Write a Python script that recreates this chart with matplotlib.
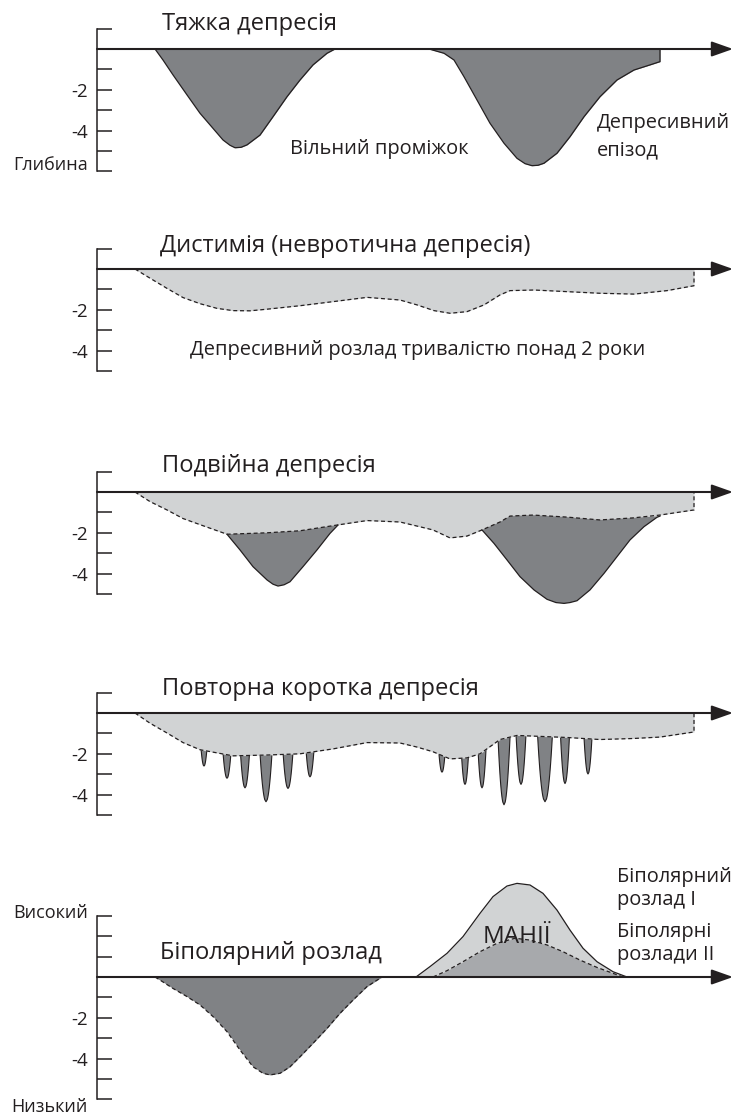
import numpy as np
import matplotlib
matplotlib.use('Agg')
import matplotlib.pyplot as plt

plt.rcParams['font.family'] = ['Open Sans', 'DejaVu Sans']

# ---------------- data (time units, depth units) ----------------
# Panel 1: major depression, two episodes
p1_ep1_t = [155, 163, 173, 187, 200, 213, 223, 230, 235, 241, 247, 260, 273, 287, 300, 313, 327, 335]
p1_ep1_d = [0, -0.54, -1.27, -2.25, -3.15, -3.89, -4.46, -4.72, -4.84, -4.82, -4.70, -4.22, -3.32, -2.34, -1.52, -0.78, -0.21, 0]
p1_ep2_t = [429, 444, 454, 464, 477, 490, 504, 517, 525, 532, 538, 544, 557, 570, 584, 600, 617, 634, 650, 660, 660]
p1_ep2_d = [0, -0.21, -0.54, -1.36, -2.5, -3.64, -4.62, -5.36, -5.62, -5.72, -5.70, -5.60, -5.11, -4.30, -3.32, -2.34, -1.52, -1.03, -0.78, -0.62, 0]

# Panel 2: dysthymia
p2_t = [135, 150, 167, 183, 200, 217, 233, 250, 267, 300, 333, 367, 400, 417, 434, 450, 467, 484, 500, 510, 534, 567, 600, 634, 667, 694, 694]
p2_d = [0, -0.45, -0.95, -1.4, -1.7, -1.93, -2.04, -2.05, -1.97, -1.8, -1.6, -1.39, -1.52, -1.76, -2.04, -2.17, -2.09, -1.76, -1.27, -1.06, -1.03, -1.11, -1.19, -1.23, -1.06, -0.82, 0]

# Panel 3: double depression
p3_t = [135, 150, 167, 183, 200, 227, 267, 300, 333, 367, 400, 417, 433, 450, 467, 482, 500, 510, 533, 567, 600, 633, 660, 694, 694]
p3_d = [0, -0.47, -0.88, -1.3, -1.6, -2.07, -2.0, -1.9, -1.65, -1.4, -1.47, -1.67, -1.86, -2.25, -2.16, -1.86, -1.47, -1.18, -1.13, -1.23, -1.37, -1.27, -1.13, -0.88, 0]
p3_ep1_t = [227, 240, 253, 267, 273, 278, 284, 290, 303, 317, 330, 338]
p3_ep1_d = [-2.07, -2.84, -3.66, -4.31, -4.52, -4.61, -4.55, -4.40, -3.66, -2.84, -2.03, -1.62]
p3_ep2_t = [482, 494, 507, 520, 534, 547, 556, 564, 570, 577, 590, 604, 617, 630, 644, 657, 660]
p3_ep2_d = [-1.86, -2.52, -3.33, -4.15, -4.80, -5.26, -5.42, -5.46, -5.42, -5.33, -4.80, -3.99, -3.17, -2.35, -1.70, -1.24, -1.18]

# Panel 4: recurrent brief depression
p4_t = [135, 150, 167, 183, 200, 233, 267, 300, 333, 367, 400, 417, 433, 450, 467, 480, 500, 517, 567, 600, 633, 660, 694, 694]
p4_d = [0, -0.5, -0.98, -1.45, -1.8, -2.1, -2.06, -2.0, -1.76, -1.45, -1.47, -1.67, -1.9, -2.25, -2.2, -2.0, -1.3, -1.1, -1.2, -1.3, -1.25, -1.18, -0.93, 0]
spike_t = [204, 227, 245, 266, 288, 310, 442, 465, 482, 504, 521, 545, 565, 588]
spike_top = [-1.85, -2.05, -2.1, -2.08, -2.02, -1.92, -2.14, -2.17, -1.9, -1.32, -1.13, -1.13, -1.2, -1.3]
spike_tip = [-2.6, -3.2, -3.67, -4.35, -3.7, -3.13, -2.9, -3.5, -3.67, -4.5, -3.5, -4.35, -3.46, -2.99]
spike_halfwidth = [3, 4, 4.5, 6, 5, 4, 3, 3.5, 4, 6, 5, 7.5, 4.5, 4]

# Panel 5: bipolar disorder
p5_dep_t = [155, 160, 173, 187, 200, 213, 227, 240, 253, 263, 270, 280, 290, 300, 313, 327, 340, 353, 367, 382]
p5_dep_d = [0, -0.15, -0.56, -0.96, -1.37, -1.94, -2.68, -3.58, -4.40, -4.72, -4.80, -4.72, -4.40, -3.91, -3.25, -2.52, -1.78, -1.13, -0.47, 0]
mania1_t = [416, 430, 447, 463, 480, 493, 507, 517, 530, 543, 557, 570, 583, 597, 613, 627]
mania1_h = [0, 0.51, 1.16, 1.98, 3.12, 3.94, 4.46, 4.59, 4.51, 4.10, 3.28, 2.30, 1.41, 0.75, 0.26, 0]
mania2_t = [433, 447, 463, 480, 497, 515, 530, 547, 563, 580, 597, 613, 623]
mania2_h = [0, 0.31, 0.75, 1.24, 1.65, 1.90, 1.81, 1.57, 1.24, 0.83, 0.47, 0.18, 0]

titles = ['Тяжка депресія', 'Дистимія (невротична депресія)', 'Подвійна депресія',
          'Повторна коротка депресія', 'Біполярний розлад']

# ---------------- style ----------------
W, H, DPI = 734, 1114, 100
UNIT = 20.4            # px per depth unit
AXIS_X = 97
ARROW_END = 733
INK = '#231f20'
DARK = '#808285'
LIGHT = '#d1d3d4'
MID = '#a7a9ac'
DASH = (0, (3.2, 2.2))
BODY = 14.4

fig = plt.figure(figsize=(W / DPI, H / DPI), dpi=DPI)
fig.patch.set_facecolor('white')


def make_panel(base_px, lo, hi):
    ax = fig.add_axes([0, 0, 1, 1])
    ax.patch.set_alpha(0)
    ax.set_xlim(0, W)
    ax.set_ylim(-(H - base_px) / UNIT, base_px / UNIT)
    for s in ['top', 'right', 'bottom']:
        ax.spines[s].set_visible(False)
    sp = ax.spines['left']
    sp.set_position(('data', AXIS_X))
    sp.set_bounds(lo, hi)
    sp.set_linewidth(1.1)
    sp.set_color(INK)
    ticks = list(range(lo, hi + 1))
    ax.set_yticks(ticks)
    ax.set_yticklabels([str(t) if t in (-2, -4) else '' for t in ticks])
    ax.tick_params(axis='y', direction='in', length=10.5, width=1.1, pad=6.5,
                   labelsize=13.5, colors=INK)
    ax.set_xticks([])
    ax.annotate('', xy=(ARROW_END, 0), xytext=(AXIS_X, 0),
                arrowprops=dict(arrowstyle='-|>,head_length=1.3,head_width=0.46',
                                mutation_scale=10, lw=1.5, color=INK,
                                shrinkA=0, shrinkB=0), zorder=6)
    return ax


TXT = dict(color=INK, va='baseline')

# Panel 1
ax1 = make_panel(49, -6, 1)
for t, d in [(p1_ep1_t, p1_ep1_d), (p1_ep2_t, p1_ep2_d)]:
    ax1.fill_between(t, d, 0, color=DARK, lw=0, zorder=2)
    ax1.plot(t, d, color=INK, lw=0.9, zorder=3)
ax1.text(162, 0.93, titles[0], fontsize=17, **TXT)
ax1.text(290, -5.15, 'Вільний проміжок', fontsize=BODY, **TXT)
ax1.text(597, -3.87, 'Депресивний', fontsize=BODY, **TXT)
ax1.text(597, -5.2, 'епізод', fontsize=BODY, **TXT)
ax1.text(88, -5.93, 'Глибина', fontsize=13, ha='right', color=INK, va='baseline')

# Panel 2
ax2 = make_panel(269, -5, 1)
ax2.fill_between(p2_t, p2_d, 0, color=LIGHT, lw=0, zorder=2)
ax2.plot(p2_t, p2_d, color=INK, lw=0.9, ls=DASH, zorder=3)
ax2.text(160, 0.82, titles[1], fontsize=17, **TXT)
ax2.text(190, -4.22, 'Депресивний розлад тривалістю понад 2 роки', fontsize=BODY, **TXT)

# Panel 3
ax3 = make_panel(492, -5, 1)
ax3.fill_between(p3_t, p3_d, 0, color=LIGHT, lw=0, zorder=2)
for t, d in [(p3_ep1_t, p3_ep1_d), (p3_ep2_t, p3_ep2_d)]:
    # close each episode along the chronic (dashed) course
    inner = [(tt, dd) for tt, dd in zip(p3_t, p3_d) if t[0] < tt < t[-1]]
    px = list(t) + [q[0] for q in inner[::-1]]
    py = list(d) + [q[1] for q in inner[::-1]]
    ax3.fill(px, py, color=DARK, lw=0, zorder=2.5)
    ax3.plot(t, d, color=INK, lw=0.9, zorder=3)
ax3.plot(p3_t, p3_d, color=INK, lw=0.9, ls=DASH, zorder=3.5)
ax3.text(162, 0.99, titles[2], fontsize=17, **TXT)

# Panel 4
ax4 = make_panel(713, -5, 1)
s = np.linspace(0, 1, 25)
for c, top, tip, hw in zip(spike_t, spike_top, spike_tip, spike_halfwidth):
    top = top + 0.12
    half = hw * np.sqrt(1 - s)
    y = top + (tip - top) * s
    xs = np.concatenate([c - half, (c + half)[::-1]])
    ys = np.concatenate([y, y[::-1]])
    ax4.fill(xs, ys, color=DARK, lw=0, zorder=2.5)
    ax4.plot(xs, ys, color=INK, lw=0.8, zorder=3)
ax4.fill_between(p4_t, p4_d, 0, color=LIGHT, lw=0, zorder=3.2)
ax4.plot(p4_t, p4_d, color=INK, lw=0.9, ls=DASH, zorder=3.5)
ax4.text(162, 0.88, titles[3], fontsize=17, **TXT)

# Panel 5
ax5 = make_panel(977, -6, 3)
ax5.fill_between(p5_dep_t, p5_dep_d, 0, color=DARK, lw=0, zorder=2)
ax5.plot(p5_dep_t, p5_dep_d, color=INK, lw=0.9, ls=DASH, zorder=3)
ax5.fill_between(mania1_t, mania1_h, 0, color=LIGHT, lw=0, zorder=2)
ax5.plot(mania1_t, mania1_h, color=INK, lw=0.9, zorder=3)
ax5.fill_between(mania2_t, mania2_h, 0, color=MID, lw=0, zorder=2.5)
ax5.plot(mania2_t, mania2_h, color=INK, lw=0.9, ls=DASH, zorder=3)
ax5.text(160, 0.88, titles[4], fontsize=17, **TXT)
ax5.text(517, 1.67, 'МАНІЇ', fontsize=17.5, ha='center', color=INK, va='baseline', zorder=4)
ax5.text(617, 4.66, 'Біполярний', fontsize=BODY, **TXT)
ax5.text(617, 3.53, 'розлад I', fontsize=BODY, **TXT)
ax5.text(617, 1.98, 'Біполярні', fontsize=BODY, **TXT)
ax5.text(617, 0.83, 'розлади II', fontsize=BODY, **TXT)
ax5.text(88, 2.89, 'Високий', fontsize=13, ha='right', color=INK, va='baseline')
ax5.text(88, -6.62, 'Низький', fontsize=13, ha='right', color=INK, va='baseline')

fig.savefig('out.png', dpi=DPI, facecolor='white')
